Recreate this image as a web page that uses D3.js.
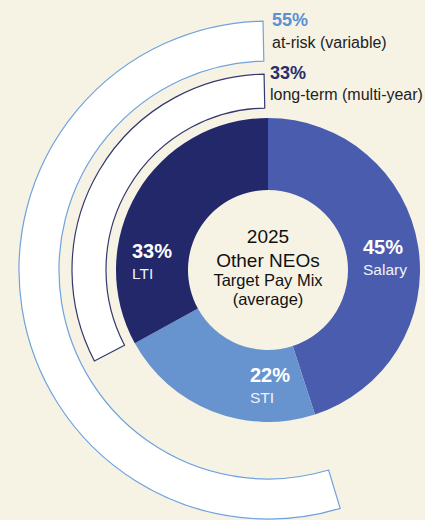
<!DOCTYPE html>
<meta charset="utf-8">
<script src="https://d3js.org/d3.v7.min.js"></script>
<style>
  body { margin: 0; background: #f6f3e5; }
  svg text { font-family: "Liberation Sans", Arial, sans-serif; }
</style>
<div id="chart"></div>
<script>
// pay mix segments (clockwise from 12 o'clock)
var segments = ["Salary", "STI", "LTI"];
var shares = [45, 22, 33];
var segColors = ["#4a5cad", "#6794cf", "#22286a"];

// outer bands: which segments each one groups
var bandLabels = ["at-risk (variable)", "long-term (multi-year)"];
var bandValues = [55, 33];
var bandMembers = [["STI", "LTI"], ["LTI"]];
var bandColors = ["#6fa3de", "#34386e"];

var centerLines = ["2025", "Other NEOs", "Target Pay Mix", "(average)"];

var width = 425, height = 520;
var cx = 268, cy = 270;

var svg = d3.select("#chart").append("svg")
  .attr("width", width)
  .attr("height", height);

svg.append("rect").attr("width", width).attr("height", height).attr("fill", "#f6f3e5");

var g = svg.append("g").attr("transform", "translate(" + cx + "," + cy + ")");

var data = segments.map(function(s, i) { return {name: s, value: shares[i]}; });
var pie = d3.pie().sort(null).value(function(d) { return d.value; });
var arcs = pie(data);

var donut = d3.arc().innerRadius(80).outerRadius(152);

g.selectAll("path.seg")
  .data(arcs)
  .enter().append("path")
    .attr("class", "seg")
    .attr("d", donut)
    .attr("fill", function(d, i) { return segColors[i]; });

// bands
var bandRadii = [[209, 249], [162, 196]];
var pad = 0.02;
bandLabels.forEach(function(lab, i) {
  var members = arcs.filter(function(a) { return bandMembers[i].indexOf(a.data.name) >= 0; });
  var start = d3.min(members, function(a) { return a.startAngle; });
  var end = d3.max(members, function(a) { return a.endAngle; });
  var arc = d3.arc()
    .innerRadius(bandRadii[i][0])
    .outerRadius(bandRadii[i][1])
    .startAngle(start + pad)
    .endAngle(end - pad);
  g.append("path")
    .attr("d", arc())
    .attr("fill", "#ffffff")
    .attr("stroke", bandColors[i])
    .attr("stroke-width", 1.2);
});

// band labels
var bandText = [{x: 272, y: 26, y2: 48}, {x: 270, y: 79, y2: 100}];
bandLabels.forEach(function(lab, i) {
  svg.append("text")
    .attr("x", bandText[i].x).attr("y", bandText[i].y)
    .attr("fill", i == 0 ? "#5b8fd6" : "#2a2d6c")
    .attr("font-size", 18).attr("font-weight", "bold")
    .text(bandValues[i] + "%");
  svg.append("text")
    .attr("x", bandText[i].x).attr("y", bandText[i].y2)
    .attr("fill", "#222")
    .attr("font-size", 16)
    .text(lab);
});

// segment labels
var segText = {
  Salary: {x: 363, y: 254},
  STI: {x: 250, y: 382},
  LTI: {x: 132, y: 258}
};
arcs.forEach(function(a) {
  var p = segText[a.data.name];
  svg.append("text")
    .attr("x", p.x).attr("y", p.y)
    .attr("fill", "#ffffff")
    .attr("font-size", 20).attr("font-weight", "bold")
    .text(a.data.value + "%");
  svg.append("text")
    .attr("x", p.x).attr("y", p.y + 21)
    .attr("fill", "#f0f2fa")
    .attr("font-size", 15.5)
    .text(a.data.name);
});

// center text
var cSizes = [19, 19, 16.5, 16.5];
var cY = [243, 267, 286, 305];
centerLines.forEach(function(t, i) {
  svg.append("text")
    .attr("x", cx).attr("y", cY[i])
    .attr("text-anchor", "middle")
    .attr("fill", "#111")
    .attr("font-size", cSizes[i])
    .text(t);
});
</script>
